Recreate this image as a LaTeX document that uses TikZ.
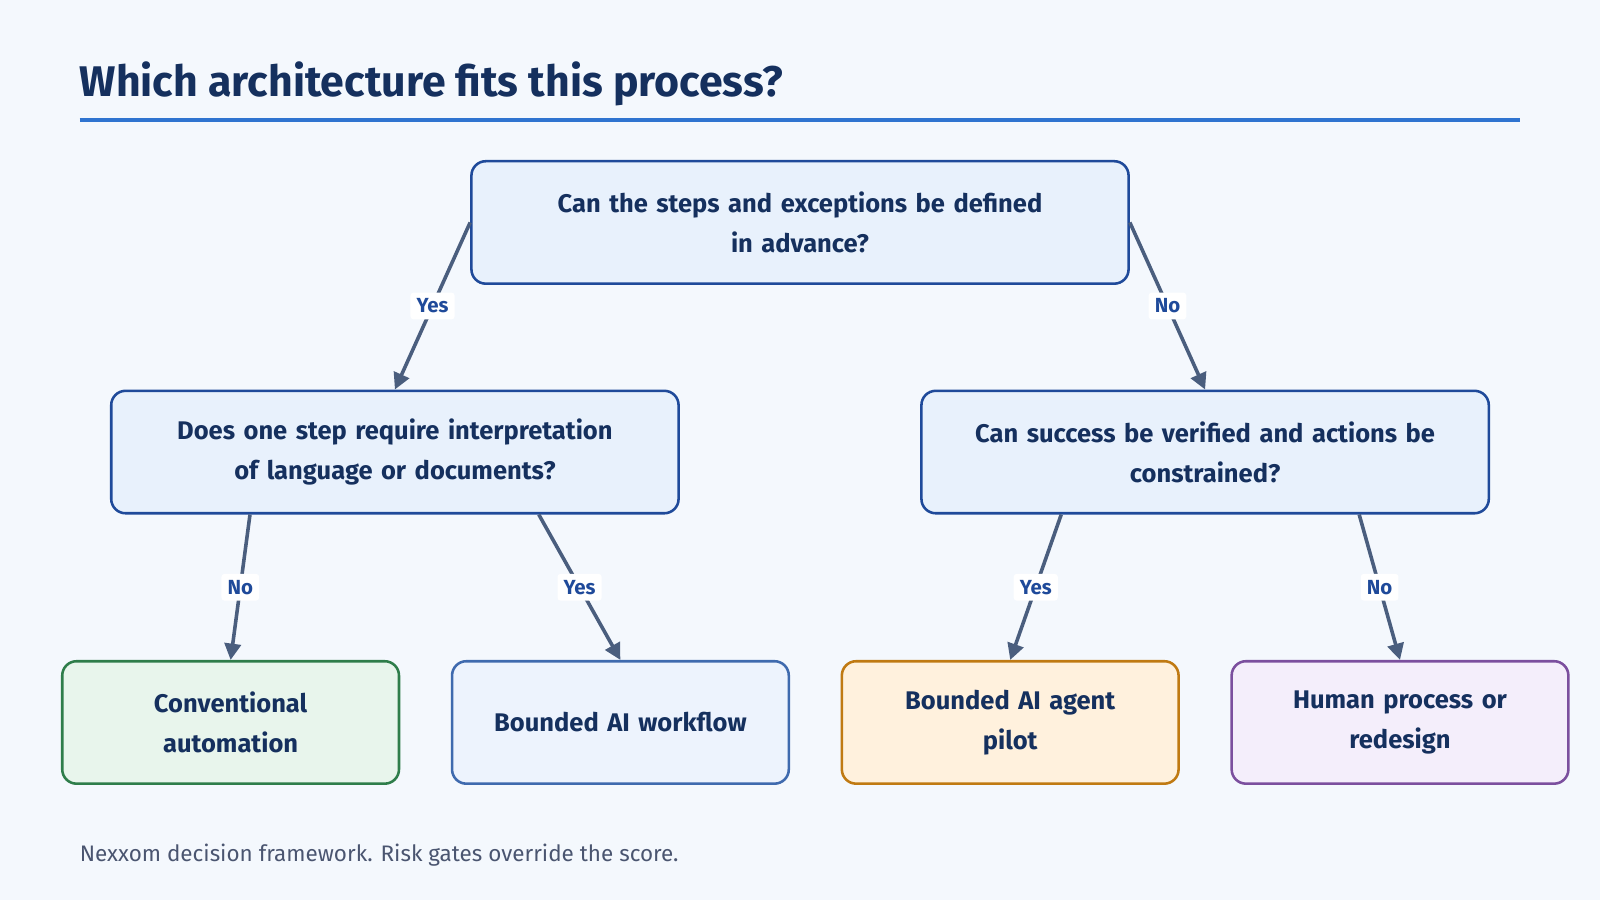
\documentclass[tikz,border=0pt]{standalone}
\usepackage{fontspec}
\setmainfont{Fira Sans}
\usetikzlibrary{arrows.meta}
\definecolor{bg}{HTML}{F4F8FD}
\definecolor{navy}{HTML}{15305E}
\definecolor{rule}{HTML}{2F74D0}
\definecolor{qfill}{HTML}{E8F1FC}
\definecolor{qdraw}{HTML}{1F4A9A}
\definecolor{arr}{HTML}{4A5E7E}
\definecolor{foot}{HTML}{4A5570}
\definecolor{gfill}{HTML}{E8F5EC}\definecolor{gdraw}{HTML}{2E7D4A}
\definecolor{bfill}{HTML}{EDF3FD}\definecolor{bdraw}{HTML}{3F6AAE}
\definecolor{ofill}{HTML}{FFF1DD}\definecolor{odraw}{HTML}{C07A12}
\definecolor{pfill}{HTML}{F4EEFB}\definecolor{pdraw}{HTML}{7B4F9E}
\tikzset{
 q/.style={draw=qdraw,fill=qfill,line width=2.5pt,rounded corners=14pt,minimum height=120pt,align=center,text=navy,font=\bfseries\fontsize{25}{39}\selectfont,inner sep=0pt},
 leaf/.style={q,minimum width=330pt,text width=300pt},
 conn/.style={draw=arr,line width=3.5pt,-{Triangle[length=16pt,width=16pt]}},
 lab/.style={fill=white,text=qdraw,font=\bfseries\fontsize{20}{22}\selectfont,inner sep=6pt,rounded corners=3pt}
}
\begin{document}
\begin{tikzpicture}[x=1pt,y=-1pt]
\fill[bg] (0,0) rectangle (1568,882);
\node[anchor=south west,text=navy,font=\bfseries\fontsize{42}{48}\selectfont,inner sep=0pt] (title) at (78,104) {Which architecture fits this process?};
\draw[rule,line width=4pt] (78,118) -- (1490,118);
\node[q,minimum width=644pt,text width=620pt] (root) at (784,218) {Can the steps and exceptions be defined\\in advance?};
\node[q,minimum width=556pt,text width=540pt] (l) at (387,443) {Does one step require interpretation\\of language or documents?};
\node[q,minimum width=556pt,text width=540pt] (r) at (1181,443) {Can success be verified and actions be\\constrained?};
\node[leaf,fill=gfill,draw=gdraw] (a) at (226,708) {Conventional\\automation};
\node[leaf,fill=bfill,draw=bdraw] (b) at (608,708) {Bounded AI workflow};
\node[leaf,fill=ofill,draw=odraw] (c) at (990,708) {Bounded AI agent\\pilot};
\node[leaf,fill=pfill,draw=pdraw] (d) at (1372,708) {Human process or\\redesign};
\draw[conn] (root.west) -- node[lab]{Yes} (l.north);
\draw[conn] (root.east) -- node[lab]{No} (r.north);
\draw[conn] ([xshift=-142pt]l.south) -- node[lab]{No} (a.north);
\draw[conn] ([xshift=141pt]l.south) -- node[lab]{Yes} (b.north);
\draw[conn] ([xshift=-141pt]r.south) -- node[lab]{Yes} (c.north);
\draw[conn] ([xshift=151pt]r.south) -- node[lab]{No} (d.north);
\node[anchor=west,text=foot,font=\fontsize{22}{26}\selectfont,inner sep=0pt] (foot) at (78,838) {Nexxom decision framework. Risk gates override the score.};
\end{tikzpicture}
\end{document}
